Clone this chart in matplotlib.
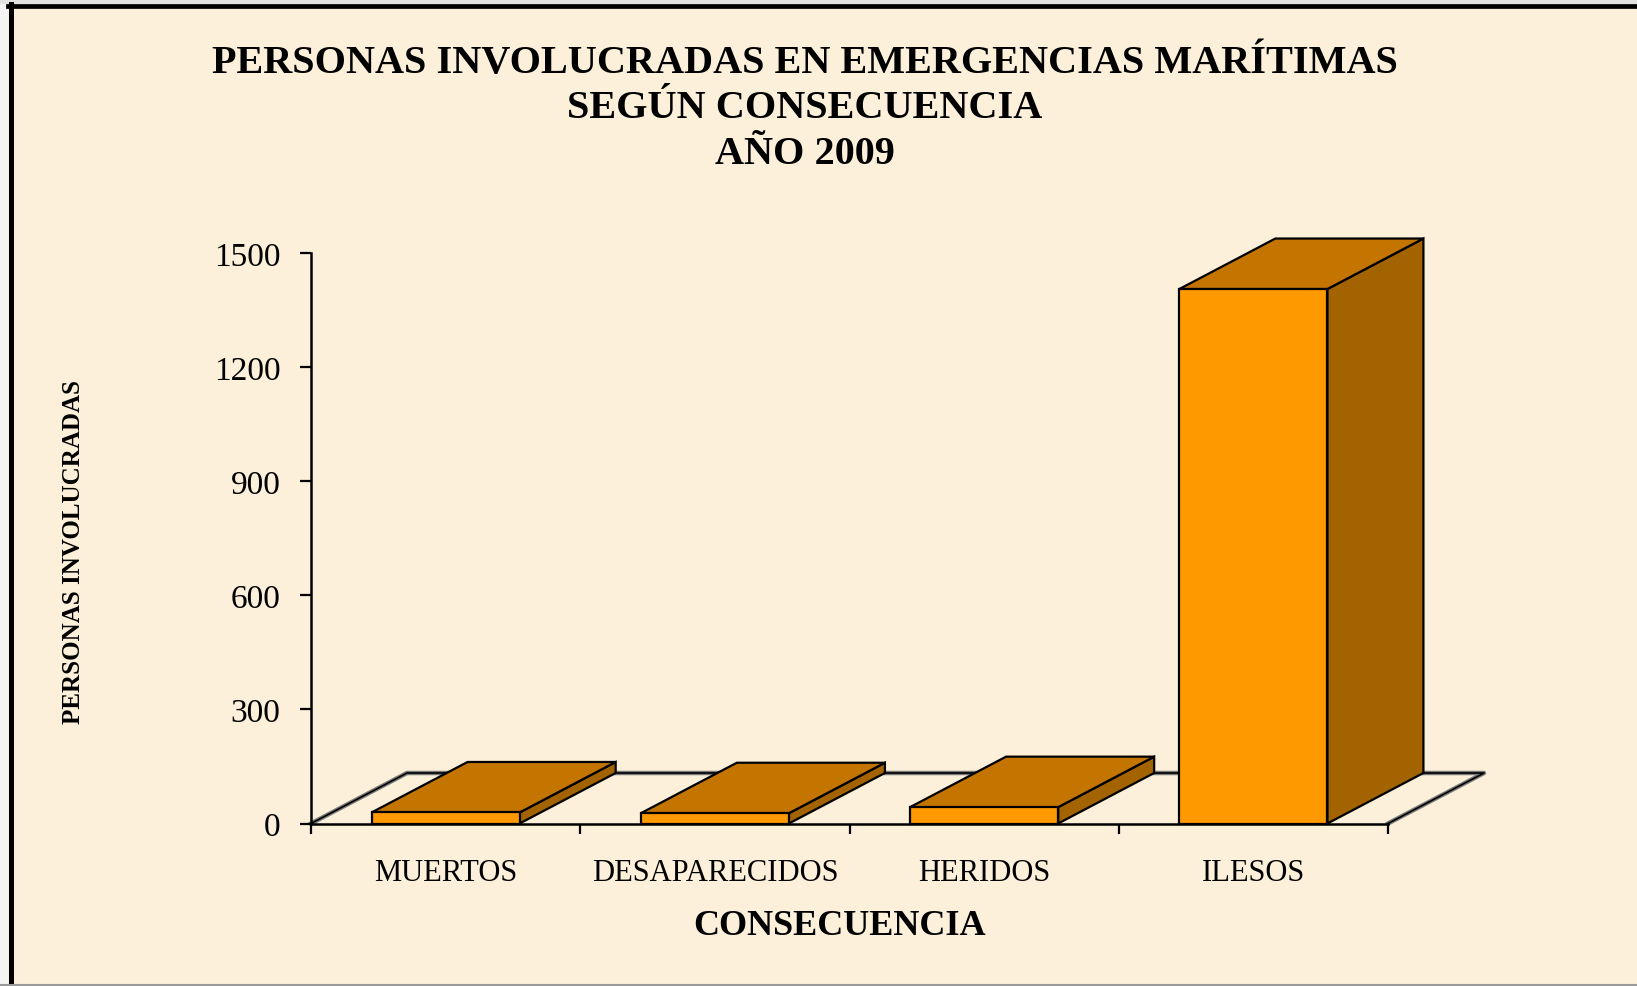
import matplotlib.pyplot as plt
from matplotlib.patches import Polygon, Rectangle
from matplotlib.lines import Line2D

# data
categories = ["MUERTOS", "DESAPARECIDOS", "HERIDOS", "ILESOS"]
personas = [29, 27, 43, 1406]
y_ticks = [0, 300, 600, 900, 1200, 1500]
title_lines = [
    "PERSONAS INVOLUCRADAS EN EMERGENCIAS MARÍTIMAS",
    "SEGÚN CONSECUENCIA",
    "AÑO 2009",
]

BG = "#FCF0DA"
FRONT = "#FF9900"
TOP = "#C47500"
SIDE = "#A36300"
SERIF = ["Liberation Serif", "DejaVu Serif"]

plt.rcParams["font.family"] = SERIF

W, H = 1637, 987
fig = plt.figure(figsize=(W / 100, H / 100), dpi=100, facecolor=BG)

# front plane of the 3d chart, in pixels
x0, x1 = 311, 1388
y0, y1 = 824.5, 254.3
ax = fig.add_axes([x0 / W, 1 - y0 / H, (x1 - x0) / W, (y0 - y1) / H])
ax.set_facecolor("none")
ax.set_xlim(0, len(categories))
ax.set_ylim(0, 1500)

# depth of the floor / bars expressed in data units (96 px right, 50 px up)
cat_px = (x1 - x0) / len(categories)
val_px = (y0 - y1) / 1500
ddx = 96 / cat_px
ddy = 50.5 / val_px
bar_w = 0.55

# floor
n = len(categories)
floor = [(0, 0), (ddx, ddy), (n + ddx, ddy), (n, 0)]
fx, fy = zip(*floor)
ax.add_line(Line2D(fx, fy, color="#7a7a7a", lw=3.2, clip_on=False, zorder=1))
ax.add_line(Line2D(fx, fy, color="black", lw=1.2, clip_on=False, zorder=1.1))

# bars
for i, v in enumerate(personas):
    l = i + 0.5 - bar_w / 2
    r = i + 0.5 + bar_w / 2
    front = [(l, 0), (l, v), (r, v), (r, 0)]
    top = [(l, v), (l + ddx, v + ddy), (r + ddx, v + ddy), (r, v)]
    side = [(r, 0), (r, v), (r + ddx, v + ddy), (r + ddx, ddy)]
    for pts, col in [(side, SIDE), (top, TOP), (front, FRONT)]:
        ax.add_patch(Polygon(pts, closed=True, facecolor=col, edgecolor="black",
                             lw=1.6, joinstyle="miter", clip_on=False, zorder=2))

for s in ["top", "right"]:
    ax.spines[s].set_visible(False)
for s in ["left", "bottom"]:
    ax.spines[s].set_linewidth(1.8)
    ax.spines[s].set_zorder(3)

ax.set_yticks(y_ticks)
ax.set_yticklabels([str(t) for t in y_ticks])
ax.tick_params(axis="y", direction="out", length=8, width=1.6, pad=14, labelsize=24)

ax.set_xticks([i + 0.5 for i in range(n)])
ax.set_xticklabels(categories)
ax.set_xticks(range(n + 1), minor=True)
ax.tick_params(axis="x", which="major", length=0, pad=25, labelsize=22)
ax.tick_params(axis="x", which="minor", direction="out", length=7, width=1.6)

# titles and axis names
for k, line in enumerate(title_lines):
    fig.text(805 / W, 1 - (63 + 45.5 * k) / H, line, ha="center", va="center",
             fontsize=29, fontweight="bold")
fig.text(840 / W, 1 - 927 / H, "CONSECUENCIA", ha="center", va="center",
         fontsize=26, fontweight="bold")
fig.text(74 / W, 1 - 552 / H, "PERSONAS INVOLUCRADAS", ha="center", va="center",
         rotation=90, fontsize=18, fontweight="bold")

# chart area border (thin pale strip outside, black frame on left and top)
fig.add_artist(Rectangle((0, 0), 8 / W, 1, color="#f4f4f2", lw=0,
                         transform=fig.transFigure))
fig.add_artist(Rectangle((0, 1 - 5 / H), 1, 5 / H, color="#e2e2e0", lw=0,
                         transform=fig.transFigure))
fig.add_artist(Line2D([10.5 / W, 10.5 / W], [0, 1 - 5 / H], color="black", lw=3.6,
                      transform=fig.transFigure))
fig.add_artist(Line2D([8 / W, 1], [1 - 7 / H, 1 - 7 / H], color="black", lw=3.4,
                      transform=fig.transFigure))
fig.add_artist(Line2D([0, 1], [1.5 / H, 1.5 / H], color="#9a9a9a", lw=1.5,
                      transform=fig.transFigure))

fig.savefig("out.png", dpi=100, facecolor=BG)
